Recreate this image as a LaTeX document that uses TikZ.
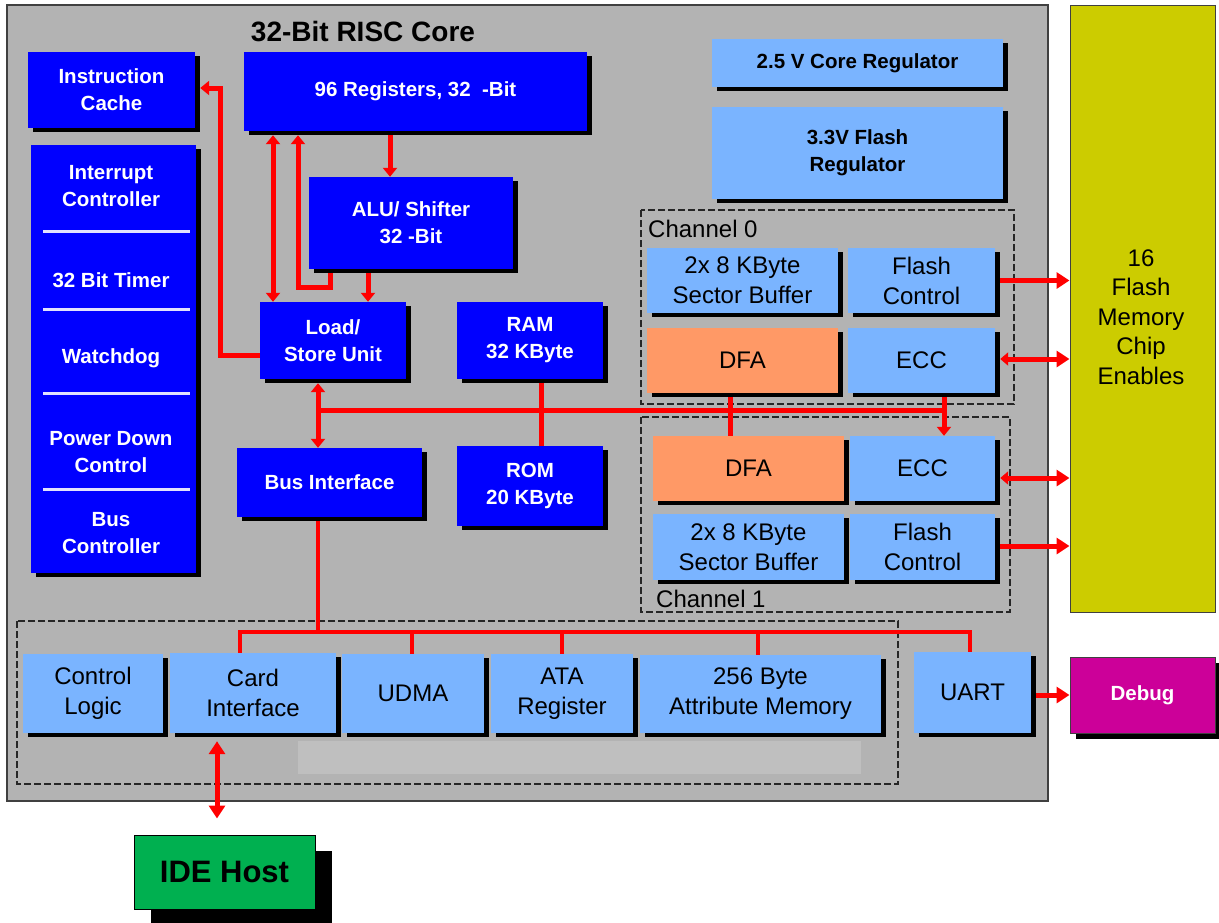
\documentclass[tikz,border=0pt]{standalone}
\usepackage{fontspec}
\setmainfont{Liberation Sans}
\usetikzlibrary{arrows.meta,shadows,calc}
\definecolor{corebg}{RGB}{179,179,179}
\definecolor{dblue}{RGB}{0,0,255}
\definecolor{lblue}{RGB}{122,180,255}
\definecolor{dfaor}{RGB}{255,153,102}
\definecolor{flashyel}{RGB}{204,204,0}
\definecolor{dbgmag}{RGB}{204,0,153}
\definecolor{idegreen}{RGB}{0,176,80}
\definecolor{rred}{RGB}{255,0,0}
\definecolor{sepline}{RGB}{225,225,255}
\definecolor{lgray}{RGB}{191,191,191}
\begin{document}
\begin{tikzpicture}[x=1pt,y=-1pt,
  >={Triangle[length=9pt,width=14pt]},
  bigtip/.style={>={Triangle[length=13pt,width=16pt]}},
  sz/.style 2 args={minimum width=#1pt,minimum height=#2pt},
  shad/.style={drop shadow={shadow xshift=5pt,shadow yshift=-4pt,opacity=1,fill=black}},
  boldf/.style={font=\fontsize{20.5}{27}\selectfont\bfseries},
  regf/.style={font=\fontsize{24}{30}\selectfont},
  dbox/.style={shad,fill=dblue,inner sep=0pt,text=white,align=center,boldf},
  wtext/.style={text=white,align=center,inner sep=0pt,boldf},
  rbox/.style={shad,fill=lblue,inner sep=0pt,text=black,align=center,boldf},
  lbox/.style={shad,fill=lblue,inner sep=0pt,text=black,align=center,regf},
  obox/.style={lbox,fill=dfaor},
  dashbox/.style={draw=black!85,line width=2.6pt,dash pattern=on 7pt off 3pt},
  sepl/.style={draw=sepline,line width=3pt},
  rl/.style={draw=rred,line width=5pt},
  bl/.style={draw=rred,line width=4pt},
]
\useasboundingbox (0,0) rectangle (1219,922);
\fill[white] (0,0) rectangle (1219,922);
% core
\draw[draw=black!75,fill=corebg,line width=1.5pt] (7,5) rectangle (1048,801);
\node[font=\fontsize{28}{34}\selectfont\bfseries,inner sep=0pt] (title) at (363,32) {32-Bit RISC Core};
% dashed groups
\draw[dashbox] (641,210) rectangle (1014,404);
\draw[dashbox] (641,417) rectangle (1010,612);
\draw[dashbox] (17,621) rectangle (898,784);
\fill[lgray] (298,741) rectangle (861,774);
\node[regf,anchor=west,inner sep=0pt] (ch0) at (648,229) {Channel 0};
\node[regf,anchor=west,inner sep=0pt] (ch1) at (656,599) {Channel 1};
% dark blue boxes
\node[dbox,sz={167}{76}] (icache) at (111.5,90) {Instruction\\Cache};
\node[dbox,sz={343}{79}] (regs) at (415.5,91.5) {96 Registers, 32\ \ -Bit};
\node[dbox,sz={204}{92}] (alu) at (411,223) {ALU/ Shifter\\32 -Bit};
\node[dbox,sz={146}{77}] (lsu) at (333,340.5) {Load/\\Store Unit};
\node[dbox,sz={146}{77}] (ram) at (530,340.5) {RAM\\32 KByte};
\node[dbox,sz={185}{69}] (busif) at (329.5,482.5) {Bus Interface};
\node[dbox,sz={146}{80}] (rom) at (530,486) {ROM\\20 KByte};
\node[dbox,sz={165}{428}] (ctl) at (113.5,359) {};
\node[wtext] (irq) at (111,186) {Interrupt\\Controller};
\node[wtext] (timer) at (111,280) {32 Bit Timer};
\node[wtext] (wdog) at (111,358) {Watchdog};
\node[wtext] (pwr) at (111,452) {Power Down\\Control};
\node[wtext] (busc) at (111,533) {Bus\\Controller};
\draw[sepl] (43,231) -- (190,231);
\draw[sepl] (43,309) -- (190,309);
\draw[sepl] (43,393) -- (190,393);
\draw[sepl] (43,489) -- (190,489);
% regulators
\node[rbox,sz={291}{48}] (reg25) at (857.5,63) {2.5 V Core Regulator};
\node[rbox,sz={291}{92}] (reg33) at (857.5,153) {3.3V Flash\\Regulator};
% channel 0
\node[lbox,sz={191}{65}] (sb0) at (742.5,280.5) {2x 8 KByte\\Sector Buffer};
\node[lbox,sz={147}{65}] (fc0) at (921.5,280.5) {Flash\\Control};
\node[obox,sz={191}{65}] (dfa0) at (742.5,360.5) {DFA};
\node[lbox,sz={147}{65}] (ecc0) at (921.5,360.5) {ECC};
% channel 1
\node[obox,sz={191}{65}] (dfa1) at (748.5,468.5) {DFA};
\node[lbox,sz={145}{65}] (ecc1) at (922.5,468.5) {ECC};
\node[lbox,sz={191}{66}] (sb1) at (748.5,547) {2x 8 KByte\\Sector Buffer};
\node[lbox,sz={145}{66}] (fc1) at (922.5,547) {Flash\\Control};
% lower row
\node[lbox,sz={140}{79}] (ctll) at (93,693.5) {Control\\Logic};
\node[lbox,sz={166}{80}] (card) at (253,693) {Card\\Interface};
\node[lbox,sz={142}{79}] (udma) at (413,693.5) {UDMA};
\node[lbox,sz={142}{79}] (ata) at (562,693.5) {ATA\\Register};
\node[lbox,sz={241}{78}] (attr) at (760.5,694) {256 Byte\\Attribute Memory};
\node[lbox,sz={117}{81}] (uart) at (972.5,692.5) {UART};
% outside
\node[draw=black!75,line width=1pt,fill=flashyel,sz={145}{607}] (flash) at (1142.5,308.5) {};
\node[regf,align=center,inner sep=0pt,font=\fontsize{24}{29.5}\selectfont] (fltext) at (1141,317) {16\\Flash\\Memory\\Chip\\Enables};
\node[draw=black!75,line width=1pt,fill=dbgmag,sz={145}{76},text=white,boldf,
  drop shadow={shadow xshift=6pt,shadow yshift=-6pt,opacity=1,fill=black}] (debug) at (1142.5,695) {Debug};
\node[draw=black,line width=1pt,fill=idegreen,sz={181}{74},font=\fontsize{31}{36}\selectfont\bfseries,
  drop shadow={shadow xshift=17pt,shadow yshift=-16pt,opacity=1,fill=black}] (ide) at (224.5,872) {IDE Host};
% connectors core
\draw[rl,->] ([yshift=-14.5pt]lsu.west) -- ++(-39,0) |- ([xshift=5pt,yshift=2pt]icache.east);
\draw[rl,<->] ([xshift=-142.5pt,yshift=-4pt]regs.south) -- ([xshift=-60pt]lsu.north);
\draw[rl,->] ([xshift=-81pt,yshift=-4pt]alu.south) -- ++(0,14) -| ([xshift=-117.5pt,yshift=-4pt]regs.south);
\draw[rl,->] ([xshift=-25.5pt,yshift=-4pt]regs.south) -- ([xshift=-21pt]alu.north);
\draw[rl,->] ([xshift=-43pt,yshift=-4pt]alu.south) -- ([xshift=35pt]lsu.north);
\draw[rl,<->] ([xshift=-15pt,yshift=-4pt]lsu.south) -- ([xshift=-11.5pt]busif.north);
\coordinate (bj) at (318,410);
\coordinate (e1t) at ([xshift=21.5pt]ecc1.north);
\draw[rl] (bj) -- (e1t |- bj);
\draw[rl,->] ([xshift=22.5pt,yshift=-4pt]ecc0.south) -- (e1t);
\draw[rl] ([xshift=-12.5pt,yshift=-4pt]dfa0.south) -- ([xshift=-18.5pt]dfa1.north);
\draw[rl] ([xshift=11pt,yshift=-4pt]ram.south) -- ([xshift=11pt]rom.north);
% lower bus
\coordinate (lb) at (318,632);
\coordinate (ct) at ([xshift=-13pt]card.north);
\coordinate (ut) at ([xshift=-2.5pt]uart.north);
\coordinate (dt) at ([xshift=-1pt]udma.north);
\coordinate (at) at (ata.north);
\coordinate (mt) at ([xshift=-2.5pt]attr.north);
\draw[bl] ([xshift=-11.5pt,yshift=-4pt]busif.south) -- (lb);
\draw[bl] (ct) |- (ut |- lb) -- (ut);
\draw[bl] (dt) -- (dt |- lb);
\draw[bl] (at) -- (at |- lb);
\draw[bl] (mt) -- (mt |- lb);
\draw[rl,bigtip,<->] ([xshift=-36pt,yshift=-8pt]card.south) -- ([xshift=-7.5pt,yshift=16pt]ide.north);
% flash arrows
\draw[rl,bigtip,->] ([xshift=5pt]fc0.east) coordinate (f0) -- (f0 -| flash.west);
\draw[rl,{Triangle[length=8pt,width=13pt]}-{Triangle[length=13pt,width=16pt]}] ([xshift=5pt,yshift=1.5pt]ecc0.east) coordinate (g0) -- (g0 -| flash.west);
\draw[rl,{Triangle[length=8pt,width=13pt]}-{Triangle[length=13pt,width=16pt]}] ([xshift=5pt,yshift=-9.5pt]ecc1.east) coordinate (g1) -- (g1 -| flash.west);
\draw[rl,bigtip,->] ([xshift=5pt,yshift=1pt]fc1.east) coordinate (f1) -- (f1 -| flash.west);
\draw[rl,bigtip,->] ([xshift=5pt,yshift=-2.5pt]uart.east) coordinate (u0) -- (u0 -| debug.west);
\end{tikzpicture}
\end{document}
